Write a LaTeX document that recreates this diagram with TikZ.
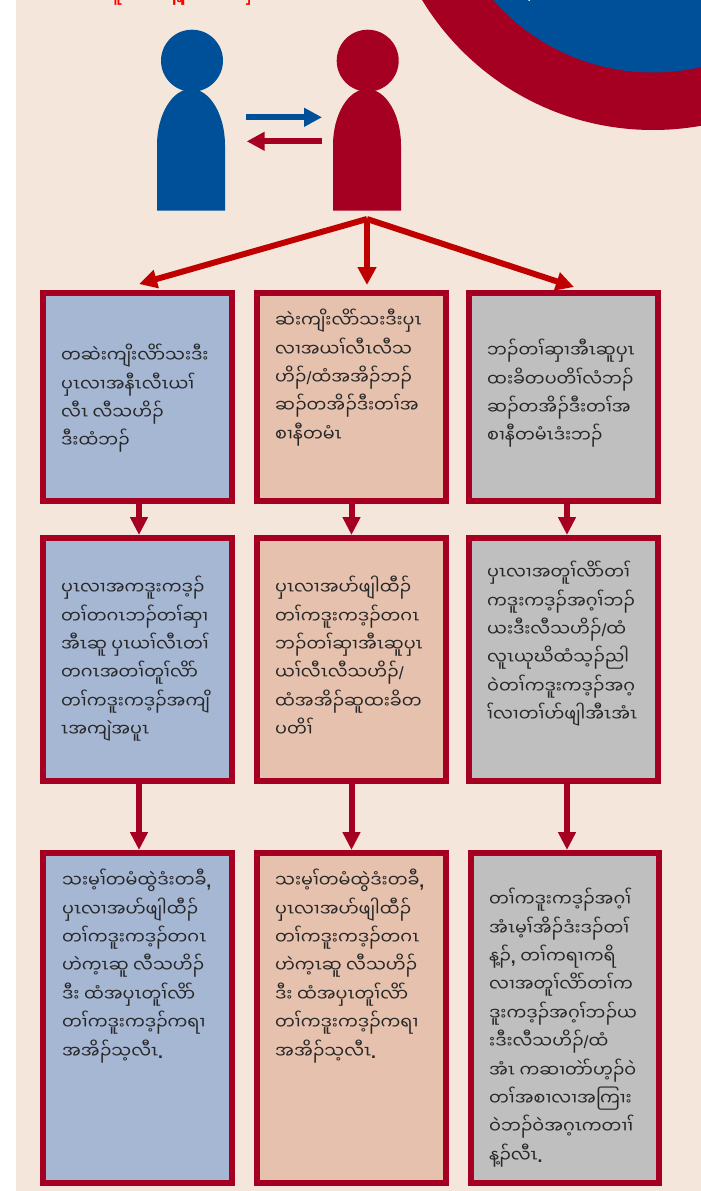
\documentclass[tikz,border=0pt]{standalone}
\usepackage{fontspec}
\usepackage{xcolor}
\usepackage{tikz}
\usetikzlibrary{arrows.meta}
\newfontfamily\karen[Script=Myanmar]{Noto Sans Myanmar UI}
\newfontfamily\punct{Liberation Sans}
\newcommand{\slsh}{{\punct /}}
\newcommand{\cma}{{\punct\bfseries ,}}
\newcommand{\stp}{{\punct\bfseries .}}
% line that opens on a mark: a no-break space carries it
\newcommand{\lead}{\setbox0\hbox{\char"00A0}\hspace*{-\wd0}\char"00A0}
\definecolor{paper}{HTML}{F4E6DA}
\definecolor{wine}{HTML}{A50021}
\definecolor{navy}{HTML}{004F99}
\definecolor{brightred}{HTML}{C00000}
\definecolor{boxblue}{HTML}{A6B7D4}
\definecolor{boxpeach}{HTML}{E6C1AD}
\definecolor{boxgrey}{HTML}{BFBFBF}
\tikzset{
  stepbox/.style={draw=wine,line width=6pt,minimum width=189pt,inner sep=0pt},
  steptext/.style={anchor=north west,align=left,inner sep=0pt,text=black!85,
    font=\karen\fontsize{17.6}{28.4}\selectfont},
  swaparrow/.style={line width=6pt,-{Triangle[length=18pt,width=18pt]}},
  splitarrow/.style={brightred,line width=6pt,-{Triangle[length=18pt,width=18pt]}},
  flowarrow/.style={wine,line width=6pt,-{Triangle[length=18pt,width=17pt]}}
}
\begin{document}
\begin{tikzpicture}[x=1pt,y=-1pt]
  \useasboundingbox (0,0) rectangle (701,1191);
  \clip (0,0) rectangle (701,1191);
  \fill[paper] (16,0) rectangle (701,1191);
  % corner
  \fill[wine] (653,-140) circle (270);
  \fill[navy] (653,-140) circle (212.5);
  \node[text=white,font=\karen\fontsize{18}{20}\selectfont,anchor=base east,inner sep=0pt] (cornertext) at (539,-3) {ဘၣ်};
  \node[text=red,font=\karen\bfseries\fontsize{18}{20}\selectfont,anchor=base west,inner sep=0pt] (toptext) at (44,0.8) {အဝဲအံၤတူၢ်လကန့ၣ်အဝဲအပှၤ};
  % persons
  \fill[navy] (192,60.7) circle (31);
  \fill[navy] (157,210.7) -- (157,145) .. controls (157,115) and (172,89) .. (191,89) .. controls (210,89) and (225,115) .. (225,145) -- (225,210.7) -- cycle;
  \fill[wine] (367.7,60.7) circle (31);
  \fill[wine] (333,210.7) -- (333,145) .. controls (333,115) and (348,89) .. (367,89) .. controls (386,89) and (401,115) .. (401,145) -- (401,210.7) -- cycle;
  \coordinate (swapa) at (246.3,117.3);
  \coordinate (swapb) at (322,117.3);
  \coordinate (swapc) at (322,141.3);
  \coordinate (swapd) at (246.7,141.3);
  \draw[swaparrow,navy] (swapa) -- (swapb);
  \draw[swaparrow,wine] (swapc) -- (swapd);
  % boxes
  \node[stepbox,fill=boxblue,minimum height=208pt] (asked) at (137.5,397) {};
  \node[stepbox,fill=boxpeach,minimum height=208pt] (agreed) at (351.5,397) {};
  \node[stepbox,fill=boxgrey,minimum height=208pt] (moved) at (563.5,397) {};
  \node[stepbox,fill=boxblue,minimum height=243pt] (sendback) at (137.5,659.5) {};
  \node[stepbox,fill=boxpeach,minimum height=243pt] (showback) at (351.5,659.5) {};
  \node[stepbox,fill=boxgrey,minimum height=243pt] (takeback) at (563.5,659.5) {};
  \node[stepbox,fill=boxblue,minimum height=330pt] (goback) at (137.5,1018) {};
  \node[stepbox,fill=boxpeach,minimum height=330pt] (goagain) at (351.5,1018) {};
  \node[stepbox,fill=boxgrey,minimum height=330pt,minimum width=188pt] (decide) at (565,1018) {};
  % connectors
  \coordinate (fork) at (367,219);
  \coordinate (forka) at (139,284);
  \coordinate (forkb) at (367,285);
  \coordinate (forkc) at (574,287);
  \draw[splitarrow] (fork) -- (forka);
  \draw[splitarrow] (fork) -- (forkb);
  \draw[splitarrow] (fork) -- (forkc);
  \draw[flowarrow] ([xshift=1.5pt]asked.south) -- ([xshift=1.5pt]sendback.north);
  \draw[flowarrow] (agreed.south) -- (showback.north);
  \draw[flowarrow] ([xshift=3.5pt]moved.south) -- ([xshift=3.5pt]takeback.north);
  \draw[flowarrow] ([xshift=1.5pt]sendback.south) -- ([xshift=1.5pt]goback.north);
  \draw[flowarrow] (showback.south) -- (goagain.north);
  \draw[flowarrow] ([xshift=3.5pt]takeback.south) -- ([xshift=3.5pt]takeback.south |- decide.north);
  % texts
  \node[steptext] (askedtext) at (61,344) {တဆဲးကျိးလိာ်သးဒီး\\ပှၤလၢအနီၤလီၤယၢ်\\လီၤ လီသဟိၣ်\\ဒီးထံဘၣ်};
  \node[steptext] (agreedtext) at (275,309) {ဆဲးကျိးလိာ်သးဒီးပှၤ\\လၢအယၢ်လီၤလီသ\\ဟိၣ်\slsh ထံအအိၣ်ဘၣ်\\ဆၣ်တအိၣ်ဒီးတၢ်အ\\စၢနီတမံၤ};
  \node[steptext] (movedtext) at (487,339) {ဘၣ်တၢ်ဆှၢအီၤဆူပှၤ\\ထးခိတပတိၢ်လံဘၣ်\\ဆၣ်တအိၣ်ဒီးတၢ်အ\\စၢနီတမံၤဒံးဘၣ်};
  \node[steptext] (sendbacktext) at (61,576) {ပှၤလၢအကဒူးကဒ့ၣ်\\တၢ်တဂၤဘၣ်တၢ်ဆှၢ\\အီၤဆူ ပှၤယၢ်လီၤတၢ်\\တဂၤအတၢ်တူၢ်လိာ်\\တၢ်ကဒူးကဒ့ၣ်အကျိ\\\lead ၤအကျဲအပူၤ};
  \node[steptext] (showbacktext) at (275,576) {ပှၤလၢအပာ်ဖျါထီၣ်\\တၢ်ကဒူးကဒ့ၣ်တဂၤ\\ဘၣ်တၢ်ဆှၢအီၤဆူပှၤ\\ယၢ်လီၤလီသဟိၣ်\slsh\\ထံအအိၣ်ဆူထးခိတ\\ပတိၢ်};
  \node[steptext] (takebacktext) at (487,561) {ပှၤလၢအတူၢ်လိာ်တၢ်\\ကဒူးကဒ့ၣ်အဂ့ၢ်ဘၣ်\\ယးဒီးလီသဟိၣ်\slsh ထံ\\လူၤယုဃိထံသ့ၣ်ညါ\\ဝဲတၢ်ကဒူးကဒ့ၣ်အဂ့\\\lead ၢ်လၢတၢ်ဟ်ဖျါအီၤအံၤ};
  \node[steptext] (gobacktext) at (62,869) {သးမ့ၢ်တမံထွဲဒံးတခီ\cma\\ပှၤလၢအပာ်ဖျါထီၣ်\\တၢ်ကဒူးကဒ့ၣ်တဂၤ\\ဟဲက့ၤဆူ လီသဟိၣ်\\ဒီး ထံအပှၤတူၢ်လိာ်\\တၢ်ကဒူးကဒ့ၣ်ကရၢ\\အအိၣ်သ့လီၤ\stp};
  \node[steptext] (goagaintext) at (275,869) {သးမ့ၢ်တမံထွဲဒံးတခီ\cma\\ပှၤလၢအပာ်ဖျါထီၣ်\\တၢ်ကဒူးကဒ့ၣ်တဂၤ\\ဟဲက့ၤဆူ လီသဟိၣ်\\ဒီး ထံအပှၤတူၢ်လိာ်\\တၢ်ကဒူးကဒ့ၣ်ကရၢ\\အအိၣ်သ့လီၤ\stp};
  \node[steptext] (decidetext) at (489,888) {တၢ်ကဒူးကဒ့ၣ်အဂ့ၢ်\\အံၤမ့ၢ်အိၣ်ဒံးဒၣ်တၢ်\\န့ၣ်\cma\ တၢ်ကရၢကရိ\\လၢအတူၢ်လိာ်တၢ်က\\ဒူးကဒ့ၣ်အဂ့ၢ်ဘၣ်ယ\\\lead းဒီးလီသဟိၣ်\slsh ထံ\\အံၤ ကဆၢတဲာ်ဟ့ၣ်ဝဲ\\တၢ်အစၢလၢအကြၢး\\ဝဲဘၣ်ဝဲအဂ့ၤကတၢၢ်\\န့ၣ်လီၤ\stp};
\end{tikzpicture}
\end{document}
